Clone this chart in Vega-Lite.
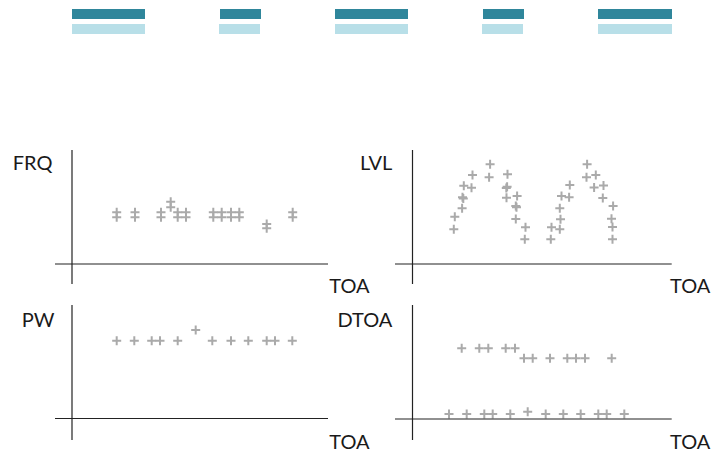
{
  "$schema": "https://vega.github.io/schema/vega-lite/v6.json",
  "padding": 0,
  "background": "white",
  "spacing": 0,
  "config": {"view": {"stroke": null}, "font": "Lato"},
  "datasets": {
    "bursts": [
      {"series": "A", "start": 0, "end": 36.5},
      {"series": "B", "start": 0, "end": 36.5},
      {"series": "A", "start": 74, "end": 94.5},
      {"series": "B", "start": 73.5, "end": 94},
      {"series": "A", "start": 131.5, "end": 168},
      {"series": "B", "start": 131.5, "end": 168},
      {"series": "A", "start": 205.5, "end": 226},
      {"series": "B", "start": 205, "end": 225.5},
      {"series": "A", "start": 263, "end": 300},
      {"series": "B", "start": 263, "end": 300}
    ],
    "frq": [
      {"toa": 22.35, "value": 25.85}, {"toa": 22.35, "value": 23.35},
      {"toa": 31.5, "value": 25.85}, {"toa": 31.5, "value": 23.35},
      {"toa": 44.5, "value": 25.85}, {"toa": 44.5, "value": 23.35},
      {"toa": 49.35, "value": 31.15}, {"toa": 49.35, "value": 28.35},
      {"toa": 52.85, "value": 25.85}, {"toa": 52.85, "value": 23.35},
      {"toa": 57, "value": 25.85}, {"toa": 57, "value": 23.35},
      {"toa": 70.65, "value": 25.85}, {"toa": 70.65, "value": 23.35},
      {"toa": 74.85, "value": 25.85}, {"toa": 74.85, "value": 23.35},
      {"toa": 79.5, "value": 25.85}, {"toa": 79.5, "value": 23.35},
      {"toa": 83.65, "value": 25.85}, {"toa": 83.65, "value": 23.35},
      {"toa": 97.35, "value": 20}, {"toa": 97.35, "value": 17.85},
      {"toa": 110.35, "value": 25.85}, {"toa": 110.35, "value": 23.35}
    ],
    "lvl": [
      {"toa": 20.65, "value": 17.35}, {"toa": 21.15, "value": 23.65},
      {"toa": 24.8, "value": 27.85}, {"toa": 25, "value": 33.35},
      {"toa": 25.4, "value": 32.75}, {"toa": 25.65, "value": 39.15},
      {"toa": 29.5, "value": 38.15}, {"toa": 30, "value": 44.5},
      {"toa": 38.8, "value": 49.85}, {"toa": 38.3, "value": 43.35},
      {"toa": 47.5, "value": 44.85}, {"toa": 47.3, "value": 38.65},
      {"toa": 46.9, "value": 38}, {"toa": 47, "value": 33.15},
      {"toa": 52.3, "value": 34}, {"toa": 52, "value": 28.35},
      {"toa": 51.65, "value": 29}, {"toa": 51.65, "value": 22.5},
      {"toa": 56.5, "value": 18.35}, {"toa": 56.15, "value": 12.35},
      {"toa": 69.15, "value": 12.35}, {"toa": 69.5, "value": 18.35},
      {"toa": 73.65, "value": 17.35}, {"toa": 74, "value": 22.35},
      {"toa": 73.65, "value": 27.85}, {"toa": 74.5, "value": 34},
      {"toa": 78.3, "value": 33.35}, {"toa": 78.65, "value": 39.5},
      {"toa": 87, "value": 43.35}, {"toa": 87.3, "value": 49.85},
      {"toa": 91.65, "value": 44.5}, {"toa": 90.8, "value": 38.25},
      {"toa": 95.5, "value": 39.25}, {"toa": 95.15, "value": 33},
      {"toa": 100.3, "value": 29}, {"toa": 99.5, "value": 22.65},
      {"toa": 100, "value": 18.5}, {"toa": 100, "value": 12.35}
    ],
    "pw": [
      {"toa": 22.35, "value": 38.9}, {"toa": 31.15, "value": 38.9},
      {"toa": 39.85, "value": 38.9}, {"toa": 44, "value": 38.9},
      {"toa": 52.85, "value": 38.9}, {"toa": 61.85, "value": 44.25},
      {"toa": 70.15, "value": 38.9}, {"toa": 79.5, "value": 38.9},
      {"toa": 88.15, "value": 38.9}, {"toa": 97.35, "value": 38.9},
      {"toa": 101.5, "value": 38.9}, {"toa": 110.15, "value": 38.9}
    ],
    "dtoa": [
      {"toa": 18.25, "value": 2.5}, {"toa": 27.1, "value": 2.5},
      {"toa": 35.9, "value": 2.5}, {"toa": 40.1, "value": 2.5},
      {"toa": 48.9, "value": 2.5}, {"toa": 57.6, "value": 3.65},
      {"toa": 66.6, "value": 2.5}, {"toa": 75.4, "value": 2.5},
      {"toa": 84.1, "value": 2.5}, {"toa": 92.9, "value": 2.5},
      {"toa": 97.1, "value": 2.5}, {"toa": 105.9, "value": 2.5},
      {"toa": 24.6, "value": 35.35}, {"toa": 33.4, "value": 35.35},
      {"toa": 37.9, "value": 35.35}, {"toa": 46.6, "value": 35.35},
      {"toa": 51.25, "value": 35.35}, {"toa": 55.75, "value": 30.35},
      {"toa": 60.1, "value": 30.35}, {"toa": 68.75, "value": 30.35},
      {"toa": 77.4, "value": 30.35}, {"toa": 81.75, "value": 30.35},
      {"toa": 86.25, "value": 30.35}, {"toa": 99.6, "value": 30.35}
    ]
  },
  "vconcat": [
    {
      "width": 713,
      "height": 140,
      "data": {"name": "bursts"},
      "mark": {"type": "bar"},
      "encoding": {
        "x": {"field": "start", "type": "quantitative", "scale": {"domain": [-36, 320.5], "nice": false, "zero": false}, "axis": null},
        "x2": {"field": "end"},
        "y": {"field": "series", "type": "nominal", "axis": null, "scale": {"domain": ["A", "B"], "range": [9, 34], "paddingInner": 0.3333, "paddingOuter": 0}},
        "color": {"field": "series", "type": "nominal", "legend": null, "scale": {"domain": ["A", "B"], "range": ["#2f869b", "#b8dfe8"]}}
      }
    },
    {
      "hconcat": [
        {
          "width": 355,
          "height": 163,
          "layer": [
            {
              "data": {"name": "frq"},
              "mark": {"type": "point", "shape": "M-1,0H1M0,-1V1", "size": 81, "filled": false, "stroke": "#aaaaaa", "strokeWidth": 2, "opacity": 1},
              "encoding": {
                "x": {"field": "toa", "type": "quantitative", "scale": {"domain": [-36, 141.5], "nice": false, "zero": false}, "axis": null},
                "y": {"field": "value", "type": "quantitative", "scale": {"domain": [-19.5, 62], "nice": false, "zero": false}, "axis": null}
              }
            },
            {
              "data": {"values": [{}]},
              "mark": {"type": "rule", "color": "#222222", "strokeWidth": 1.2},
              "encoding": {"x": {"datum": -8.5}, "x2": {"datum": 128}, "y": {"datum": 0}}
            },
            {
              "data": {"values": [{}]},
              "mark": {"type": "rule", "color": "#222222", "strokeWidth": 1.2},
              "encoding": {"x": {"datum": 0}, "y": {"datum": -10}, "y2": {"datum": 57}}
            },
            {
              "data": {"values": [{}]},
              "mark": {"type": "text", "align": "left", "baseline": "alphabetic", "fontSize": 20, "font": "Lato", "color": "#1a1a1a"},
              "encoding": {"x": {"datum": -29.65}, "y": {"datum": 47}, "text": {"value": "FRQ"}}
            },
            {
              "data": {"values": [{}]},
              "mark": {"type": "text", "align": "left", "baseline": "alphabetic", "fontSize": 20, "font": "Lato", "color": "#1a1a1a"},
              "encoding": {"x": {"datum": 128.65}, "y": {"datum": -14.65}, "text": {"value": "TOA"}}
            }
          ]
        },
        {
          "width": 358,
          "height": 163,
          "layer": [
            {
              "data": {"name": "lvl"},
              "mark": {"type": "point", "shape": "M-1,0H1M0,-1V1", "size": 81, "filled": false, "stroke": "#aaaaaa", "strokeWidth": 2, "opacity": 1},
              "encoding": {
                "x": {"field": "toa", "type": "quantitative", "scale": {"domain": [-28.75, 150.25], "nice": false, "zero": false}, "axis": null},
                "y": {"field": "value", "type": "quantitative", "scale": {"domain": [-19.5, 62], "nice": false, "zero": false}, "axis": null}
              }
            },
            {
              "data": {"values": [{}]},
              "mark": {"type": "rule", "color": "#222222", "strokeWidth": 1.2},
              "encoding": {"x": {"datum": -8.75}, "x2": {"datum": 129.6}, "y": {"datum": 0}}
            },
            {
              "data": {"values": [{}]},
              "mark": {"type": "rule", "color": "#222222", "strokeWidth": 1.2},
              "encoding": {"x": {"datum": 0}, "y": {"datum": -10}, "y2": {"datum": 57}}
            },
            {
              "data": {"values": [{}]},
              "mark": {"type": "text", "align": "left", "baseline": "alphabetic", "fontSize": 20, "font": "Lato", "color": "#1a1a1a"},
              "encoding": {"x": {"datum": -26.25}, "y": {"datum": 47}, "text": {"value": "LVL"}}
            },
            {
              "data": {"values": [{}]},
              "mark": {"type": "text", "align": "left", "baseline": "alphabetic", "fontSize": 20, "font": "Lato", "color": "#1a1a1a"},
              "encoding": {"x": {"datum": 128.75}, "y": {"datum": -14.65}, "text": {"value": "TOA"}}
            }
          ]
        }
      ],
      "spacing": 0,
      "bounds": "flush"
    },
    {
      "hconcat": [
        {
          "width": 355,
          "height": 149,
          "layer": [
            {
              "data": {"name": "pw"},
              "mark": {"type": "point", "shape": "M-1,0H1M0,-1V1", "size": 81, "filled": false, "stroke": "#aaaaaa", "strokeWidth": 2, "opacity": 1},
              "encoding": {
                "x": {"field": "toa", "type": "quantitative", "scale": {"domain": [-36, 141.5], "nice": false, "zero": false}, "axis": null},
                "y": {"field": "value", "type": "quantitative", "scale": {"domain": [-16.75, 57.75], "nice": false, "zero": false}, "axis": null}
              }
            },
            {
              "data": {"values": [{}]},
              "mark": {"type": "rule", "color": "#222222", "strokeWidth": 1.2},
              "encoding": {"x": {"datum": -8.5}, "x2": {"datum": 128}, "y": {"datum": 0}}
            },
            {
              "data": {"values": [{}]},
              "mark": {"type": "rule", "color": "#222222", "strokeWidth": 1.2},
              "encoding": {"x": {"datum": 0}, "y": {"datum": -10.75}, "y2": {"datum": 56.75}}
            },
            {
              "data": {"values": [{}]},
              "mark": {"type": "text", "align": "left", "baseline": "alphabetic", "fontSize": 20, "font": "Lato", "color": "#1a1a1a"},
              "encoding": {"x": {"datum": -25.15}, "y": {"datum": 45.75}, "text": {"value": "PW"}}
            },
            {
              "data": {"values": [{}]},
              "mark": {"type": "text", "align": "left", "baseline": "alphabetic", "fontSize": 20, "font": "Lato", "color": "#1a1a1a"},
              "encoding": {"x": {"datum": 128.65}, "y": {"datum": -15}, "text": {"value": "TOA"}}
            }
          ]
        },
        {
          "width": 358,
          "height": 149,
          "layer": [
            {
              "data": {"name": "dtoa"},
              "mark": {"type": "point", "shape": "M-1,0H1M0,-1V1", "size": 81, "filled": false, "stroke": "#aaaaaa", "strokeWidth": 2, "opacity": 1},
              "encoding": {
                "x": {"field": "toa", "type": "quantitative", "scale": {"domain": [-28.75, 150.25], "nice": false, "zero": false}, "axis": null},
                "y": {"field": "value", "type": "quantitative", "scale": {"domain": [-16.5, 58], "nice": false, "zero": false}, "axis": null}
              }
            },
            {
              "data": {"values": [{}]},
              "mark": {"type": "rule", "color": "#222222", "strokeWidth": 1.2},
              "encoding": {"x": {"datum": -8.75}, "x2": {"datum": 129.6}, "y": {"datum": 0}}
            },
            {
              "data": {"values": [{}]},
              "mark": {"type": "rule", "color": "#222222", "strokeWidth": 1.2},
              "encoding": {"x": {"datum": 0}, "y": {"datum": -10.5}, "y2": {"datum": 57}}
            },
            {
              "data": {"values": [{}]},
              "mark": {"type": "text", "align": "right", "baseline": "alphabetic", "fontSize": 20, "font": "Lato", "color": "#1a1a1a"},
              "encoding": {"x": {"datum": -10.1}, "y": {"datum": 46}, "text": {"value": "DTOA"}}
            },
            {
              "data": {"values": [{}]},
              "mark": {"type": "text", "align": "left", "baseline": "alphabetic", "fontSize": 20, "font": "Lato", "color": "#1a1a1a"},
              "encoding": {"x": {"datum": 128.75}, "y": {"datum": -14.75}, "text": {"value": "TOA"}}
            }
          ]
        }
      ],
      "spacing": 0,
      "bounds": "flush"
    }
  ]
}
